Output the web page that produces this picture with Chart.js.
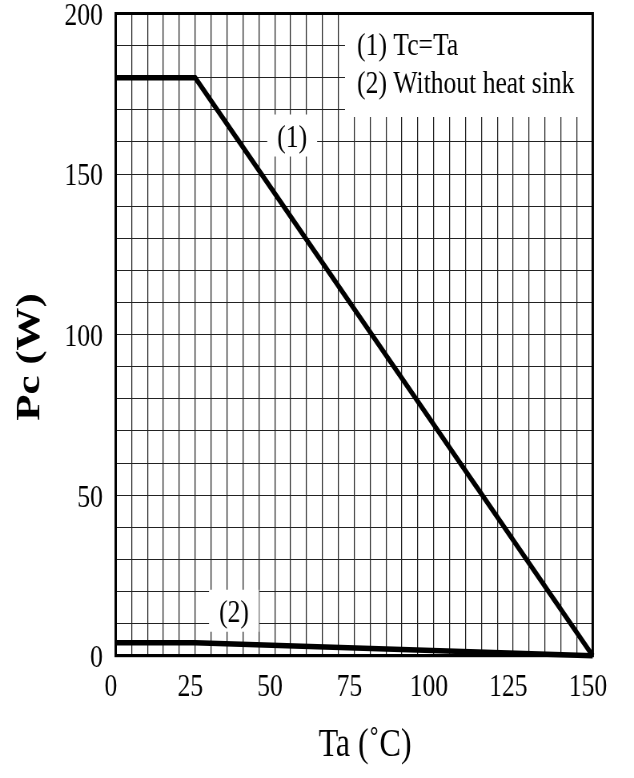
<!DOCTYPE html>
<html>
<head>
<meta charset="utf-8">
<script src="https://cdn.jsdelivr.net/npm/chart.js@4.4.1/dist/chart.umd.min.js"></script>
<style>
  html, body { margin: 0; padding: 0; background: #fff; }
  #chart { display: block; }
</style>
</head>
<body>
<!-- drawn wider and squeezed to 634px so the serif text looks condensed like the original -->
<canvas id="chart" width="792" height="778" style="width:634px;height:778px"></canvas>
<script>
// Ambient temperature (°C) at the break points of both curves
const ta = [0, 25, 150];
// (1) Tc=Ta
const pcCase = [180, 180, 0];
// (2) Without heat sink
const pcFree = [4, 4, 0];

// labelled ticks (grid is every 5 °C and every 10 W)
const xTicks = [0, 25, 50, 75, 100, 125, 150];
const yTicks = [0, 50, 100, 150, 200];

const xTitle = 'Ta (˚C)';
const yTitle = 'Pc (W)';
const legendLines = ['(1) Tc=Ta', '(2) Without heat sink'];
const curveTags = ['(1)', '(2)'];

const SERIF = "'Liberation Serif', 'Times New Roman', serif";
const SX = 634 / 792; // horizontal squeeze of the canvas

// where the curve tags sit, in chart units
const tagPos = [{x: 55.5, y: 162}, {x: 37.2, y: 14}];

const boxesPlugin = {
    id: 'boxes',
    beforeDatasetsDraw(chart) {
        const ctx = chart.ctx;
        const a = chart.chartArea;
        const xs = chart.scales.x, ys = chart.scales.y;
        ctx.save();
        ctx.font = '32px ' + SERIF;
        ctx.textBaseline = 'middle';
        ctx.textAlign = 'left';

        // legend box in the top right corner
        const boxLeft = 345 / SX;
        ctx.fillStyle = '#fff';
        ctx.fillRect(boxLeft, a.top, a.right - boxLeft, 117 - a.top);
        ctx.fillStyle = '#000';
        ctx.fillText(legendLines[0], 446, 47);
        ctx.fillText(legendLines[1], 446, 85);

        // curve tags on white patches
        ctx.textAlign = 'center';
        for (let i = 0; i < curveTags.length; i++) {
            const px = xs.getPixelForValue(tagPos[i].x);
            const py = ys.getPixelForValue(tagPos[i].y);
            const w = ctx.measureText(curveTags[i]).width + 25;
            ctx.fillStyle = '#fff';
            ctx.fillRect(px - w / 2, py - 21, w, 42);
            ctx.fillStyle = '#000';
            ctx.fillText(curveTags[i], px, py + 3);
        }
        ctx.restore();
    },
    afterDatasetsDraw(chart) {
        const ctx = chart.ctx;
        const a = chart.chartArea;
        ctx.save();
        ctx.strokeStyle = '#000';
        ctx.lineWidth = 3;
        ctx.strokeRect(a.left, a.top, a.right - a.left, a.bottom - a.top);

        // axis titles, placed a little off centre like the original
        ctx.fillStyle = '#000';
        ctx.textAlign = 'center';
        ctx.textBaseline = 'middle';
        ctx.font = '40px ' + SERIF;
        ctx.fillText(xTitle, 365 / SX, 745);
        ctx.translate(37.5, 357);
        ctx.rotate(-Math.PI / 2);
        ctx.font = 'bold 43px ' + SERIF;
        ctx.fillText(yTitle, 0, 0);
        ctx.restore();
    }
};

function points(ys) {
    return ta.map((x, i) => ({x: x, y: ys[i]}));
}

new Chart(document.getElementById('chart'), {
    type: 'line',
    data: {
        datasets: [{
            label: legendLines[0],
            data: points(pcCase),
            borderColor: '#000',
            borderWidth: 5.5,
            pointRadius: 0,
            clip: false
        }, {
            label: legendLines[1],
            data: points(pcFree),
            borderColor: '#000',
            borderWidth: 5.5,
            pointRadius: 0,
            clip: false
        }]
    },
    options: {
        responsive: false,
        animation: false,
        events: [],
        layout: { padding: { left: 0, right: 51.6, top: 13.5, bottom: 0 } },
        plugins: {
            legend: { display: false },
            tooltip: { enabled: false }
        },
        scales: {
            x: {
                type: 'linear',
                min: 0,
                max: 150,
                afterFit(scale) {
                    scale.height = 122.3;
                    scale.paddingLeft = 0;
                    scale.paddingRight = 0;
                },
                grid: { color: '#222', lineWidth: 1.25, drawTicks: false },
                border: { color: '#000', width: 3 },
                ticks: {
                    stepSize: 5,
                    autoSkip: false,
                    maxRotation: 0,
                    padding: 13,
                    labelOffset: -6,
                    color: '#000',
                    font: { family: SERIF, size: 32 },
                    callback: v => xTicks.includes(v) ? v : ''
                }
            },
            y: {
                type: 'linear',
                min: 0,
                max: 200,
                afterFit(scale) {
                    scale.width = 144.5;
                    scale.paddingTop = 0;
                    scale.paddingBottom = 0;
                },
                grid: { color: '#222', lineWidth: 1, drawTicks: false },
                border: { color: '#000', width: 3 },
                ticks: {
                    stepSize: 10,
                    autoSkip: false,
                    padding: 16,
                    labelOffset: 3,
                    color: '#000',
                    font: { family: SERIF, size: 32 },
                    callback: v => yTicks.includes(v) ? v : ''
                }
            }
        }
    },
    plugins: [boxesPlugin]
});
</script>
</body>
</html>
